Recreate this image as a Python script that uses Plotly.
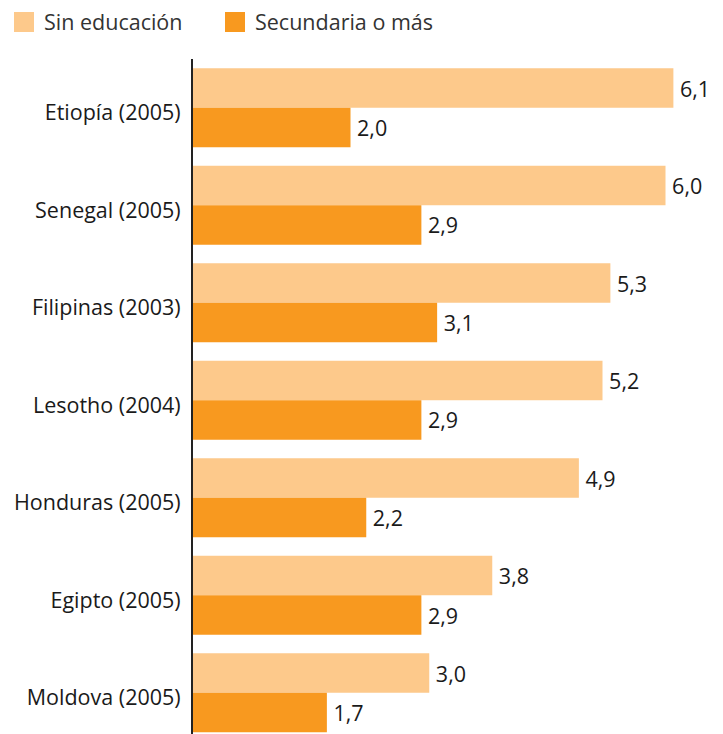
import plotly.graph_objects as go

countries = ["Etiopía (2005)", "Senegal (2005)", "Filipinas (2003)", "Lesotho (2004)",
             "Honduras (2005)", "Egipto (2005)", "Moldova (2005)"]
sin_educacion = [6.1, 6.0, 5.3, 5.2, 4.9, 3.8, 3.0]
secundaria = [2.0, 2.9, 3.1, 2.9, 2.2, 2.9, 1.7]
series_names = ["Sin educación", "Secundaria o más"]
colors = ["#FDC98B", "#F8991F"]

FONT = "Open Sans"
FS = 21.5

fig = go.Figure()
for name, vals, col in zip(series_names, [sin_educacion, secundaria], colors):
    fig.add_trace(go.Bar(
        y=countries, x=vals, name=name, orientation="h",
        marker=dict(color=col, line=dict(width=0)),
        texttemplate="\u2009%{x:.1f}", textposition="outside",
        textfont=dict(family=FONT, size=FS, color="#1a1a1a"),
        cliponaxis=False, showlegend=False,
    ))

# legend drawn as swatches + labels along the top
legend_x = [14, 225]
for i, (name, col) in enumerate(zip(series_names, colors)):
    fig.add_shape(type="rect", xref="paper", yref="paper",
                  x0=(legend_x[i] - 193) / 530, x1=(legend_x[i] + 20 - 193) / 530,
                  y0=(734 - 32) / 675, y1=(734 - 12) / 675,
                  fillcolor=col, line=dict(width=0))
    fig.add_annotation(xref="paper", yref="paper",
                       x=(legend_x[i] + 28 - 193) / 530, y=(734 - 22) / 675,
                       text=name, showarrow=False, xanchor="left", yanchor="middle",
                       font=dict(family=FONT, size=FS, color="#333333"))

fig.update_layout(
    width=723, height=734,
    margin=dict(l=193, r=0, t=59, b=0),
    paper_bgcolor="white", plot_bgcolor="white",
    barmode="group", bargap=0.19, bargroupgap=0,
    separators=",.",
    showlegend=False,
    font=dict(family=FONT, size=FS, color="#1a1a1a"),
    xaxis=dict(range=[0, 6.73], visible=False, showgrid=False, zeroline=False),
    yaxis=dict(range=[6.423, -0.5], showline=True, linecolor="#222222", linewidth=2,
               showgrid=False, ticks="", ticklabelstandoff=6, ticklabelshift=-5,
               tickfont=dict(family=FONT, size=FS, color="#1a1a1a")),
)

fig.write_html("out.html")
